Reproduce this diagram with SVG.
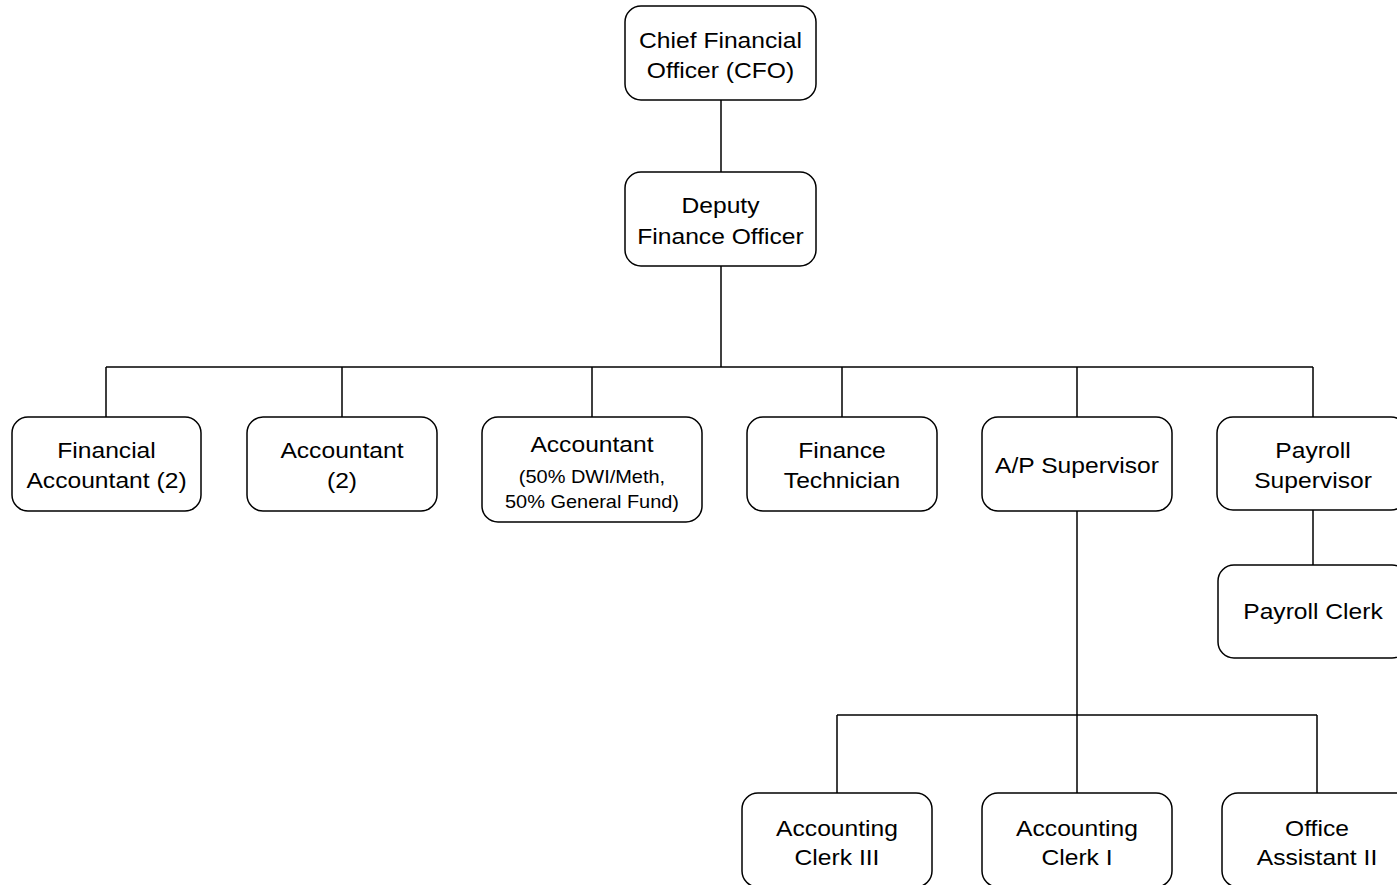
<svg xmlns="http://www.w3.org/2000/svg" width="1397" height="885" viewBox="0 0 1397 885">
<style>
.box{fill:#fff;stroke:#000;stroke-width:1.5}
.t{font-family:"Liberation Sans",Arial,sans-serif;font-size:22px;fill:#000;text-anchor:middle}
.s{font-family:"Liberation Sans",Arial,sans-serif;font-size:19px;fill:#000;text-anchor:middle}
.c{fill:none;stroke:#000;stroke-width:1.5}
</style>
<rect width="1397" height="885" fill="#fff"/>
<g id="connectors" class="c">
<path d="M721 100V172"/>
<path d="M721 266V367"/>
<path d="M106 367H1313"/>
<path d="M106 367V417M342 367V417M592 367V417M842 367V417M1077 367V417M1313 367V417"/>
<path d="M1313 510V565"/>
<path d="M1077 511V715"/>
<path d="M837 715H1317"/>
<path d="M837 715V793M1077 715V793M1317 715V793"/>
</g>
<g id="cfo"><rect class="box" x="625" y="6" width="191" height="94" rx="16"/><text class="t" transform="translate(720.5 48) scale(1.12 1)">Chief Financial</text><text class="t" transform="translate(720.5 78) scale(1.12 1)">Officer (CFO)</text></g>
<g id="deputy"><rect class="box" x="625" y="172" width="191" height="94" rx="16"/><text class="t" transform="translate(720.5 213) scale(1.12 1)">Deputy</text><text class="t" transform="translate(720.5 243.5) scale(1.12 1)">Finance Officer</text></g>
<g id="fin-acct"><rect class="box" x="12" y="417" width="189" height="94" rx="16"/><text class="t" transform="translate(106.5 458) scale(1.12 1)">Financial</text><text class="t" transform="translate(106.5 488) scale(1.12 1)">Accountant (2)</text></g>
<g id="acct2"><rect class="box" x="247" y="417" width="190" height="94" rx="16"/><text class="t" transform="translate(342 458) scale(1.12 1)">Accountant</text><text class="t" transform="translate(342 488) scale(1.12 1)">(2)</text></g>
<g id="acct-dwi"><rect class="box" x="482" y="417" width="220" height="105" rx="16"/><text class="t" transform="translate(592 452) scale(1.12 1)">Accountant</text><text class="s" transform="translate(592 483) scale(1.05 1)">(50% DWI/Meth,</text><text class="s" transform="translate(592 508) scale(1.05 1)">50% General Fund)</text></g>
<g id="fin-tech"><rect class="box" x="747" y="417" width="190" height="94" rx="16"/><text class="t" transform="translate(842 458) scale(1.12 1)">Finance</text><text class="t" transform="translate(842 488) scale(1.12 1)">Technician</text></g>
<g id="ap-sup"><rect class="box" x="982" y="417" width="190" height="94" rx="16"/><text class="t" transform="translate(1077 473) scale(1.12 1)">A/P Supervisor</text></g>
<g id="payroll-sup"><rect class="box" x="1217" y="417" width="190" height="93" rx="16"/><text class="t" transform="translate(1313 458) scale(1.12 1)">Payroll</text><text class="t" transform="translate(1313 488) scale(1.12 1)">Supervisor</text></g>
<g id="payroll-clerk"><rect class="box" x="1218" y="565" width="190" height="93" rx="16"/><text class="t" transform="translate(1313 619) scale(1.12 1)">Payroll Clerk</text></g>
<g id="clerk3"><rect class="box" x="742" y="793" width="190" height="94" rx="16"/><text class="t" transform="translate(837 836) scale(1.12 1)">Accounting</text><text class="t" transform="translate(837 865) scale(1.12 1)">Clerk III</text></g>
<g id="clerk1"><rect class="box" x="982" y="793" width="190" height="94" rx="16"/><text class="t" transform="translate(1077 836) scale(1.12 1)">Accounting</text><text class="t" transform="translate(1077 865) scale(1.12 1)">Clerk I</text></g>
<g id="office-asst"><rect class="box" x="1222" y="793" width="190" height="94" rx="16"/><text class="t" transform="translate(1317 836) scale(1.12 1)">Office</text><text class="t" transform="translate(1317 865) scale(1.12 1)">Assistant II</text></g>
</svg>
